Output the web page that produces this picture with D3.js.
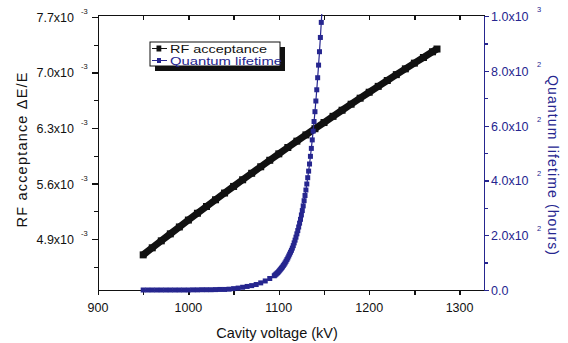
<!DOCTYPE html>
<html lang="en">
<head>
<meta charset="utf-8">
<title>RF acceptance and quantum lifetime</title>
<script src="https://cdn.jsdelivr.net/npm/d3@7"></script>
<style>
  html, body { margin: 0; padding: 0; background: #fff; }
  svg { display: block; font-family: "Liberation Sans", Arial, sans-serif; }
  .tick-label { font-size: 12.5px; }
  .sup { font-size: 7.5px; }
  .axis path, .axis line { shape-rendering: crispEdges; }
</style>
</head>
<body>
<script>
// RF acceptance (x10^-3) vs cavity voltage, read every 10 kV
var rfVoltage = [950, 960, 970, 980, 990, 1000, 1010, 1020, 1030, 1040, 1050,
  1060, 1070, 1080, 1090, 1100, 1110, 1120, 1130, 1140, 1150, 1160, 1170,
  1180, 1190, 1200, 1210, 1220, 1230, 1240, 1250, 1260, 1270, 1275];
var rfAcceptance = [4.700, 4.789, 4.877, 4.965, 5.052, 5.139, 5.225, 5.310,
  5.395, 5.480, 5.563, 5.647, 5.729, 5.811, 5.893, 5.974, 6.054, 6.134,
  6.213, 6.291, 6.369, 6.447, 6.524, 6.600, 6.676, 6.751, 6.825, 6.899,
  6.973, 7.046, 7.118, 7.189, 7.261, 7.296];

// quantum lifetime (hours) vs cavity voltage
var qlVoltage = [950, 955, 960, 965, 970, 975, 980, 985, 990, 995, 1000, 1005,
  1010, 1015, 1020, 1025, 1030, 1035, 1040, 1045, 1050, 1055, 1060, 1065,
  1070, 1075, 1080, 1085, 1090, 1095,
  1096, 1097, 1098, 1099, 1100, 1101, 1102, 1103, 1104, 1105, 1106, 1107,
  1108, 1109, 1110, 1111, 1112, 1113, 1114, 1115, 1116, 1117, 1118, 1119,
  1120, 1121, 1122, 1123, 1124, 1125, 1126, 1127, 1128, 1129, 1130, 1131,
  1132, 1133, 1134, 1135, 1136, 1137, 1138, 1139, 1140, 1141, 1142, 1143,
  1144, 1145, 1146, 1147, 1148];
var qlHours = [0, 0, 0, 0, 0, 0, 0, 0, 0, 0, 0, 0.5,
  0.5, 1, 1, 1, 1.5, 2, 2, 3, 5, 7, 10, 13,
  16, 20, 26, 33, 42, 52,
  55, 58, 61, 64, 68, 72, 76, 80, 84, 89, 94, 99,
  105, 111, 117, 124, 131, 138, 145, 153, 162, 172, 182, 193,
  205, 217, 230, 244, 258, 274, 290, 307, 326, 345, 365, 387,
  410, 434, 460, 488, 517, 548, 580, 615, 651, 690, 731, 775,
  821, 870, 922, 977, 1035];

var xTicks = [900, 1000, 1100, 1200, 1300];
var xMinor = [950, 1050, 1150, 1250];
var leftTicks = [4.9, 5.6, 6.3, 7.0, 7.7];
var leftMinor = [4.55, 5.25, 5.95, 6.65, 7.35];
var rightTicks = [0, 200, 400, 600, 800, 1000];
var rightMinor = [100, 300, 500, 700, 900];

var w = 568, h = 343;
var pLeft = 98, pRight = 484, pTop = 15, pBottom = 290;
var black = "#111", navy = "#26268f";

var x = d3.scaleLinear().domain([900, 1327]).range([pLeft, pRight]);
var yL = d3.scaleLinear().domain([4.257, 7.725]).range([pBottom, pTop]);
var yR = d3.scaleLinear().domain([0, 1004]).range([pBottom, pTop]);

var svg = d3.select("body").append("svg")
  .attr("width", w).attr("height", h);

svg.append("defs").append("clipPath").attr("id", "plot")
  .append("rect").attr("x", pLeft).attr("y", pTop - 1)
  .attr("width", pRight - pLeft).attr("height", pBottom - pTop + 4);

function styleAxis(g, color) {
  g.attr("class", "axis");
  g.selectAll("path").attr("stroke", color).attr("stroke-width", 1.5);
  g.selectAll("line").attr("stroke", color).attr("stroke-width", 1.3);
}

// bottom axis
svg.append("g").attr("transform", "translate(0," + pBottom + ")")
  .call(d3.axisBottom(x).tickValues(xTicks.concat(xMinor)).tickSize(5)
    .tickSizeOuter(0).tickFormat(""))
  .call(styleAxis, black);
// top axis, ticks inward
svg.append("g").attr("transform", "translate(0," + pTop + ")")
  .call(d3.axisBottom(x).tickValues(xTicks.concat(xMinor)).tickSize(5)
    .tickSizeOuter(0).tickFormat(""))
  .call(styleAxis, black);
// left axis
svg.append("g").attr("transform", "translate(" + pLeft + ",0)")
  .call(d3.axisLeft(yL).tickValues(leftTicks).tickSize(6).tickSizeOuter(0).tickFormat(""))
  .call(styleAxis, black);
svg.append("g").attr("transform", "translate(" + pLeft + ",0)")
  .call(d3.axisLeft(yL).tickValues(leftMinor).tickSize(4).tickSizeOuter(0).tickFormat(""))
  .call(styleAxis, black);
// right axis
svg.append("g").attr("transform", "translate(" + pRight + ",0)")
  .call(d3.axisRight(yR).tickValues(rightTicks).tickSize(5).tickSizeOuter(0).tickFormat(""))
  .call(styleAxis, navy);
svg.append("g").attr("transform", "translate(" + pRight + ",0)")
  .call(d3.axisRight(yR).tickValues(rightMinor).tickSize(4).tickSizeOuter(0).tickFormat(""))
  .call(styleAxis, navy);

// x tick labels
svg.selectAll(".xlab").data(xTicks).enter().append("text")
  .attr("class", "tick-label")
  .attr("x", function(d) { return x(d); })
  .attr("y", 312)
  .attr("text-anchor", "middle")
  .attr("fill", black)
  .text(function(d) { return d; });

// left tick labels  (value x10^-3)
svg.selectAll(".ylab").data(leftTicks).enter().append("text")
  .attr("class", "tick-label")
  .attr("x", 74)
  .attr("y", function(d) { return yL(d) + 5; })
  .attr("text-anchor", "end")
  .attr("fill", black)
  .text(function(d) { return d.toFixed(1) + "x10"; });
svg.selectAll(".ysup").data(leftTicks).enter().append("text")
  .attr("class", "sup")
  .attr("x", 81)
  .attr("y", function(d) { return yL(d) - 3; })
  .attr("fill", black)
  .text("-3");

// right tick labels
function mant(d) {
  if (d === 0) return "0.0";
  var e = Math.floor(Math.log10(d));
  return (d / Math.pow(10, e)).toFixed(1) + "x10";
}
svg.selectAll(".rlab").data(rightTicks).enter().append("text")
  .attr("class", "tick-label")
  .attr("x", 491)
  .attr("y", function(d) { return yR(d) + 5; })
  .attr("fill", navy)
  .text(mant);
svg.selectAll(".rsup").data(rightTicks.filter(function(d) { return d > 0; }))
  .enter().append("text")
  .attr("class", "sup")
  .attr("x", 537)
  .attr("y", function(d) { return yR(d) - 4; })
  .attr("fill", navy)
  .text(function(d) { return Math.floor(Math.log10(d)); });

// axis titles
svg.append("text")
  .attr("x", 277).attr("y", 338)
  .attr("text-anchor", "middle")
  .attr("font-size", 14.5).attr("fill", black)
  .text("Cavity voltage (kV)");
svg.append("text")
  .attr("transform", "translate(27,150) rotate(-90)")
  .attr("text-anchor", "middle")
  .attr("font-size", 14.5).attr("fill", black)
  .attr("textLength", 155).attr("lengthAdjust", "spacing")
  .text("RF acceptance  \u0394E/E");
svg.append("text")
  .attr("transform", "translate(548,165) rotate(90)")
  .attr("text-anchor", "middle")
  .attr("font-size", 14).attr("fill", navy)
  .attr("textLength", 180).attr("lengthAdjust", "spacing")
  .text("Quantum lifetime (hours)");

// data
var plot = svg.append("g").attr("clip-path", "url(#plot)");

var rf = rfVoltage.map(function(v, i) { return [v, rfAcceptance[i]]; });
var ql = qlVoltage.map(function(v, i) { return [v, qlHours[i]]; });

plot.append("path").datum(rf)
  .attr("fill", "none").attr("stroke", black).attr("stroke-width", 7)
  .attr("d", d3.line().x(function(d) { return x(d[0]); }).y(function(d) { return yL(d[1]); }));
plot.selectAll(".rfm").data(rf).enter().append("rect")
  .attr("x", function(d) { return x(d[0]) - 3.5; })
  .attr("y", function(d) { return yL(d[1]) - 3.5; })
  .attr("width", 7).attr("height", 7)
  .attr("fill", black);

plot.append("path").datum(ql)
  .attr("fill", "none").attr("stroke", navy).attr("stroke-width", 1.2)
  .attr("d", d3.line().x(function(d) { return x(d[0]); }).y(function(d) { return yR(d[1]); }));
plot.selectAll(".qlm").data(ql).enter().append("rect")
  .attr("x", function(d) { return x(d[0]) - 2.5; })
  .attr("y", function(d) { return yR(d[1]) - 2.5; })
  .attr("width", 5).attr("height", 5)
  .attr("fill", navy);

// legend
var lg = svg.append("g");
lg.append("rect").attr("x", 155).attr("y", 47).attr("width", 130).attr("height", 24)
  .attr("fill", black);
lg.append("rect").attr("x", 150).attr("y", 42).attr("width", 130).attr("height", 24)
  .attr("fill", "#fff").attr("stroke", black).attr("stroke-width", 1);
var items = [["RF acceptance", black, 6, 97], ["Quantum lifetime", navy, 5, 112]];
items.forEach(function(it, i) {
  var cy = 48.5 + i * 12;
  lg.append("line").attr("x1", 152).attr("x2", 167).attr("y1", cy).attr("y2", cy)
    .attr("stroke", it[1]).attr("stroke-width", 1);
  lg.append("rect").attr("x", 159.5 - it[2] / 2).attr("y", cy - it[2] / 2)
    .attr("width", it[2] * 0.8).attr("height", it[2])
    .attr("fill", it[1]);
  lg.append("text").attr("x", 170).attr("y", cy + 4)
    .attr("font-size", 11).attr("fill", it[1])
    .attr("textLength", it[3]).attr("lengthAdjust", "spacingAndGlyphs")
    .text(it[0]);
});
</script>
</body>
</html>
